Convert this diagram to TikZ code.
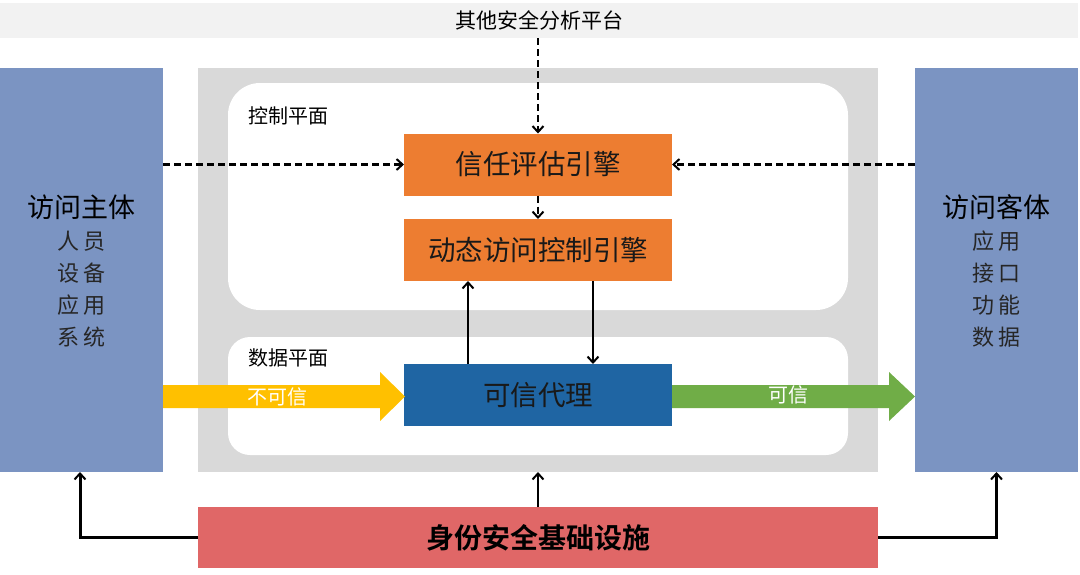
\documentclass[tikz,border=0pt]{standalone}
\usepackage{fontspec}
\setmainfont{Noto Sans CJK SC}
\newfontfamily\cjkbold{Noto Sans CJK SC Bold}
\usetikzlibrary{arrows.meta}
\definecolor{sideblue}{HTML}{7B94C2}
\definecolor{panelgray}{HTML}{D9D9D9}
\definecolor{bannergray}{HTML}{F2F2F2}
\definecolor{engorange}{HTML}{ED7D31}
\definecolor{proxyblue}{HTML}{1F65A3}
\definecolor{untrusty}{HTML}{FFC000}
\definecolor{trustg}{HTML}{70AD47}
\definecolor{idred}{HTML}{E06767}
\begin{document}
\begin{tikzpicture}[x=1pt,y=-1pt,
  box/.style={rectangle, inner sep=0pt, outer sep=0pt},
  engine/.style={box, fill=engorange, minimum width=268pt, minimum height=62pt, font=\fontsize{27.5}{29}\selectfont, text=black!90},
  dashconn/.style={line width=2.4pt, dash pattern=on 7pt off 4pt, -{Straight Barb[length=6pt,width=11pt,line width=2pt]}},
  solidconn/.style={line width=2.5pt, -{Straight Barb[length=6pt,width=11pt,line width=2pt]}},
  baseconn/.style={line width=3pt, -{Straight Barb[length=6pt,width=11pt,line width=2pt]}},
  sublabel/.style={font=\fontsize{22}{24}\selectfont, text=black!85},
  mainlabel/.style={font=\fontsize{27}{29}\selectfont, text=black},
  planelabel/.style={font=\fontsize{20}{22}\selectfont, anchor=west, text=black},
  arrowlabel/.style={font=\fontsize{20}{22}\selectfont, text=white}
]
\useasboundingbox (0,0) rectangle (1080,574);
\fill[white] (0,0) rectangle (1080,574);

% banner
\node[box, fill=bannergray, minimum width=1078pt, minimum height=35pt, font=\fontsize{21}{23}\selectfont] (banner) at (539,20.5) {其他安全分析平台};

% side boxes
\node[box, fill=sideblue, minimum width=163pt, minimum height=404pt] (subj) at (81.5,270) {};
\node[box, fill=sideblue, minimum width=163pt, minimum height=404pt] (obj) at (996.5,270) {};

% central gray panel and planes
\node[box, fill=panelgray, minimum width=680pt, minimum height=404pt] (panel) at (538,270) {};
\node[box, fill=white, rounded corners=32pt, minimum width=620pt, minimum height=227pt] (ctrl) at (538,196.5) {};
\node[box, fill=white, rounded corners=22pt, minimum width=620pt, minimum height=118pt] (data) at (538,396) {};
\node[planelabel] (ctrllab) at (245,116) {控制平面};
\node[planelabel] (datalab) at (245,358) {数据平面};

% engines
\node[engine] (trust) at (538,164.5) {信任评估引擎};
\node[engine] (dac) at (538,250) {动态访问控制引擎};
\node[box, fill=proxyblue, minimum width=268pt, minimum height=62pt, font=\fontsize{27.5}{29}\selectfont, text=black!90] (proxy) at (538,395) {可信代理};

% identity infrastructure
\node[box, fill=idred, minimum width=680pt, minimum height=61pt, font=\cjkbold\fontsize{28}{30}\selectfont, text=black] (idn) at (538,537.5) {身份安全基础设施};

% side labels
\node[mainlabel] (subjt) at (81.5,207) {访问主体};
\node[sublabel] (s1) at (81.5,241) {人\hspace{4pt}员};
\node[sublabel] (s2) at (81.5,273) {设\hspace{4pt}备};
\node[sublabel] (s3) at (81.5,305) {应\hspace{4pt}用};
\node[sublabel] (s4) at (81.5,337) {系\hspace{4pt}统};
\node[mainlabel] (objt) at (996.5,207) {访问客体};
\node[sublabel] (o1) at (996.5,241) {应\hspace{4pt}用};
\node[sublabel] (o2) at (996.5,273) {接\hspace{4pt}口};
\node[sublabel] (o3) at (996.5,305) {功\hspace{4pt}能};
\node[sublabel] (o4) at (996.5,337) {数\hspace{4pt}据};

% fat arrows
\fill[untrusty] (163,385) -- (380,385) -- (380,372) -- (405,396.5) -- (380,421) -- (380,408) -- (163,408) -- cycle;
\fill[trustg] (672,385) -- (889,385) -- (889,372) -- (915,396.5) -- (889,421) -- (889,408) -- (672,408) -- cycle;
\node[arrowlabel] (untrustlab) at (277,397) {不可信};
\node[arrowlabel] (trustlab) at (788,395) {可信};

% connectors
\draw[dashconn] (banner.south -| trust.north) -- (trust.north);
\draw[dashconn] (trust.west -| subj.east) -- (trust.west);
\draw[dashconn] (trust.east -| obj.west) -- (trust.east);
\draw[dashconn] (trust.south) -- (dac.north);
\draw[solidconn] ([xshift=-70pt]proxy.north) -- ([xshift=-70pt]dac.south);
\draw[solidconn] ([xshift=55pt]dac.south) -- ([xshift=55pt]proxy.north);
\draw[solidconn] (idn.north) -- (panel.south);
\draw[baseconn] (idn.west) -| ([xshift=-1.5pt]subj.south);
\draw[baseconn] (idn.east) -| (obj.south);
\end{tikzpicture}
\end{document}
